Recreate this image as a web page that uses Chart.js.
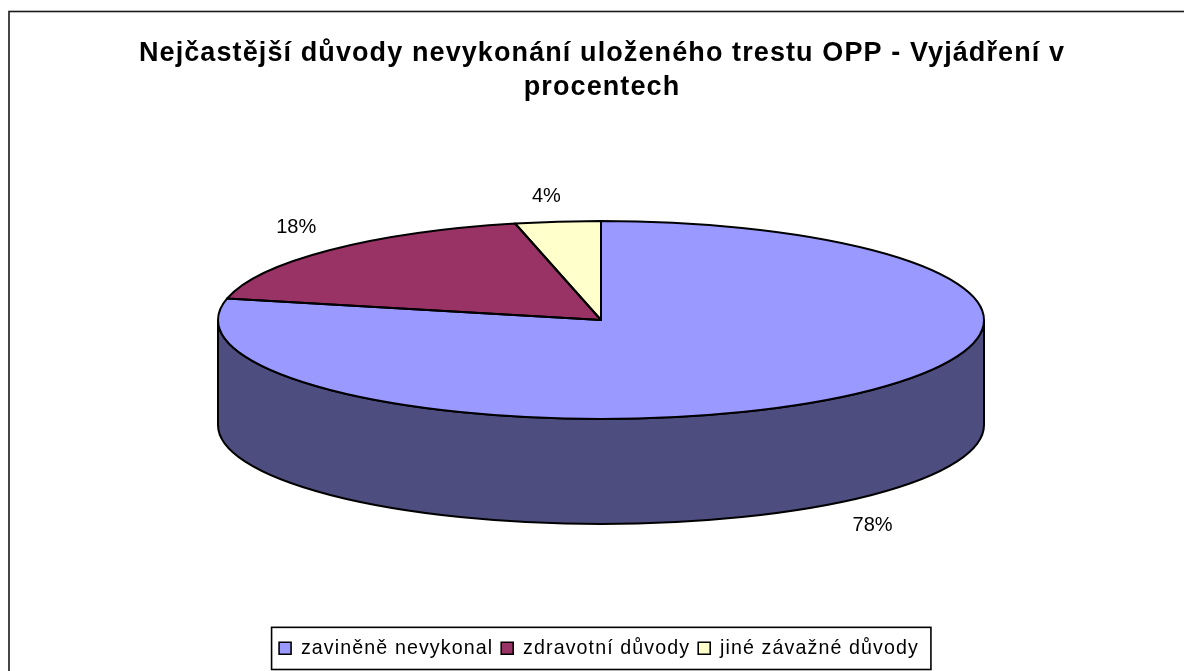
<!DOCTYPE html>
<html><head><meta charset="utf-8">
<style>html,body{margin:0;padding:0;background:#fff;overflow:hidden}canvas{display:block}</style>
<script src="https://cdn.jsdelivr.net/npm/chart.js@4"></script></head>
<body><canvas id="c" width="1184" height="671"></canvas>
<script>
const categories = ['zaviněně nevykonal', 'zdravotní důvody', 'jiné závažné důvody'];
const values = [78.49, 17.91, 3.6];
const colors = ['#9999FF', '#993366', '#FFFFCC'];
const titleLines = ['Nejčastější důvody nevykonání uloženého trestu OPP - Vyjádření v', 'procentech'];

const FONT = '"Liberation Sans", Arial, sans-serif';
const SPACING = '1.1px';
const view = {cx: 601, cy: 320, rx: 383, ry: 99, depth: 105};
const labelNudge = [[2, 0], [1, -2], [-6, 5]];
const legendShift = -3;
const darken = h => '#' + [1,3,5].map(i => Math.round(parseInt(h.substr(i,2),16)/2).toString(16).padStart(2,'0')).join('');

function project(a, extra) {
  return {x: view.cx + (view.rx + extra.a) * Math.cos(a),
          y: view.cy + (view.ry + extra.b) * Math.sin(a)};
}
const pie3d = {
  id: 'pie3d',
  beforeLayout(chart) { chart.ctx.letterSpacing = SPACING; },
  beforeDatasetsDraw(chart) {
    const ctx = chart.ctx, arcs = chart.getDatasetMeta(0).data;
    ctx.letterSpacing = '0px';
    // extruded side wall, front half only
    arcs.forEach((arc, i) => {
      const p = arc.getProps(['startAngle','endAngle']);
      const ranges = [[p.startAngle, p.endAngle], [p.startAngle - 2*Math.PI, p.endAngle - 2*Math.PI]];
      ranges.forEach(([s0, e0]) => {
        const s = Math.max(s0, 0), e = Math.min(e0, Math.PI);
        if (e <= s) return;
        ctx.save();
        ctx.beginPath();
        ctx.ellipse(view.cx, view.cy, view.rx, view.ry, 0, s, e);
        ctx.ellipse(view.cx, view.cy + view.depth, view.rx, view.ry, 0, e, s, true);
        ctx.closePath();
        ctx.fillStyle = darken(colors[i]);
        ctx.fill();
        ctx.strokeStyle = '#000'; ctx.lineWidth = 2; ctx.stroke();
        ctx.restore();
      });
    });
    const a0 = arcs[0];
    const R = a0.outerRadius;
    ctx.save();
    ctx.translate(view.cx, view.cy);
    ctx.scale(view.rx / R, view.ry / R);
    ctx.translate(-a0.x, -a0.y);
  },
  afterDatasetsDraw(chart) {
    const ctx = chart.ctx, arcs = chart.getDatasetMeta(0).data;
    ctx.restore();
    // outlines with an even pen width
    ctx.save();
    ctx.strokeStyle = '#000'; ctx.lineWidth = 2; ctx.lineJoin = 'round';
    arcs.forEach(arc => {
      const p = arc.getProps(['startAngle','endAngle']);
      ctx.beginPath();
      ctx.moveTo(view.cx, view.cy);
      ctx.ellipse(view.cx, view.cy, view.rx, view.ry, 0, p.startAngle, p.endAngle);
      ctx.closePath();
      ctx.stroke();
    });
    // percentage labels
    ctx.fillStyle = '#000';
    ctx.font = '20px ' + FONT;
    ctx.textAlign = 'center'; ctx.textBaseline = 'middle';
    const total = values.reduce((a, b) => a + b, 0);
    arcs.forEach((arc, i) => {
      const p = arc.getProps(['startAngle','endAngle']);
      const mid = (p.startAngle + p.endAngle) / 2;
      const pt = project(mid, {a: 48, b: 30});
      const front = Math.sin(mid) > 0 ? view.depth : 0;
      ctx.fillText(Math.round(values[i] / total * 100) + '%', pt.x + labelNudge[i][0], pt.y + front + labelNudge[i][1]);
    });
    ctx.restore();
    // legend frame
    const hb = chart.legend.legendHitBoxes;
    const l = Math.min(...hb.map(b => b.left)) - 7.5 + legendShift, r = Math.max(...hb.map(b => b.left + b.width)) + 12 + legendShift;
    const t = hb[0].top - 11, bottom = hb[0].top + hb[0].height + 11.5;
    ctx.save(); ctx.strokeStyle = '#000'; ctx.lineWidth = 1.6;
    ctx.strokeRect(l, t, r - l, bottom - t);
    ctx.restore();
  },
  beforeDraw(chart) {
    const ctx = chart.ctx;
    ctx.letterSpacing = SPACING;
    // move the legend itself; hit boxes stay where the layout placed them
    if (!chart.$legendMoved) { chart.legend.left += legendShift; chart.legend.right += legendShift; chart.$legendMoved = true; }
    ctx.save(); ctx.strokeStyle = '#1a1a1a'; ctx.lineWidth = 1.6;
    ctx.strokeRect(9, 11.5, 1300, 800);
    ctx.restore();
  }
};

new Chart(document.getElementById('c'), {
  type: 'pie',
  data: {labels: categories, datasets: [{data: values, backgroundColor: colors, borderWidth: 0}]},
  plugins: [pie3d],
  options: {
    responsive: false, animation: false, rotation: 0, devicePixelRatio: 1,
    layout: {padding: {left: 20, right: 0, top: 0, bottom: 3}},
    plugins: {
      tooltip: {enabled: false},
      title: {display: true, text: titleLines, color: '#000', padding: {top: 37, bottom: 10},
              font: {family: FONT, size: 27, weight: 'bold', lineHeight: 1.26}},
      legend: {position: 'bottom',
        labels: {color: '#000', boxWidth: 12, boxHeight: 12, padding: 8,
          font: {family: FONT, size: 19.65},
          generateLabels(chart) {
            return categories.map((text, i) => ({text, fillStyle: colors[i], strokeStyle: '#000', lineWidth: 1.6, index: i, hidden: false, fontColor: '#000'}));
          }}}
    }
  }
});
</script></body></html>
